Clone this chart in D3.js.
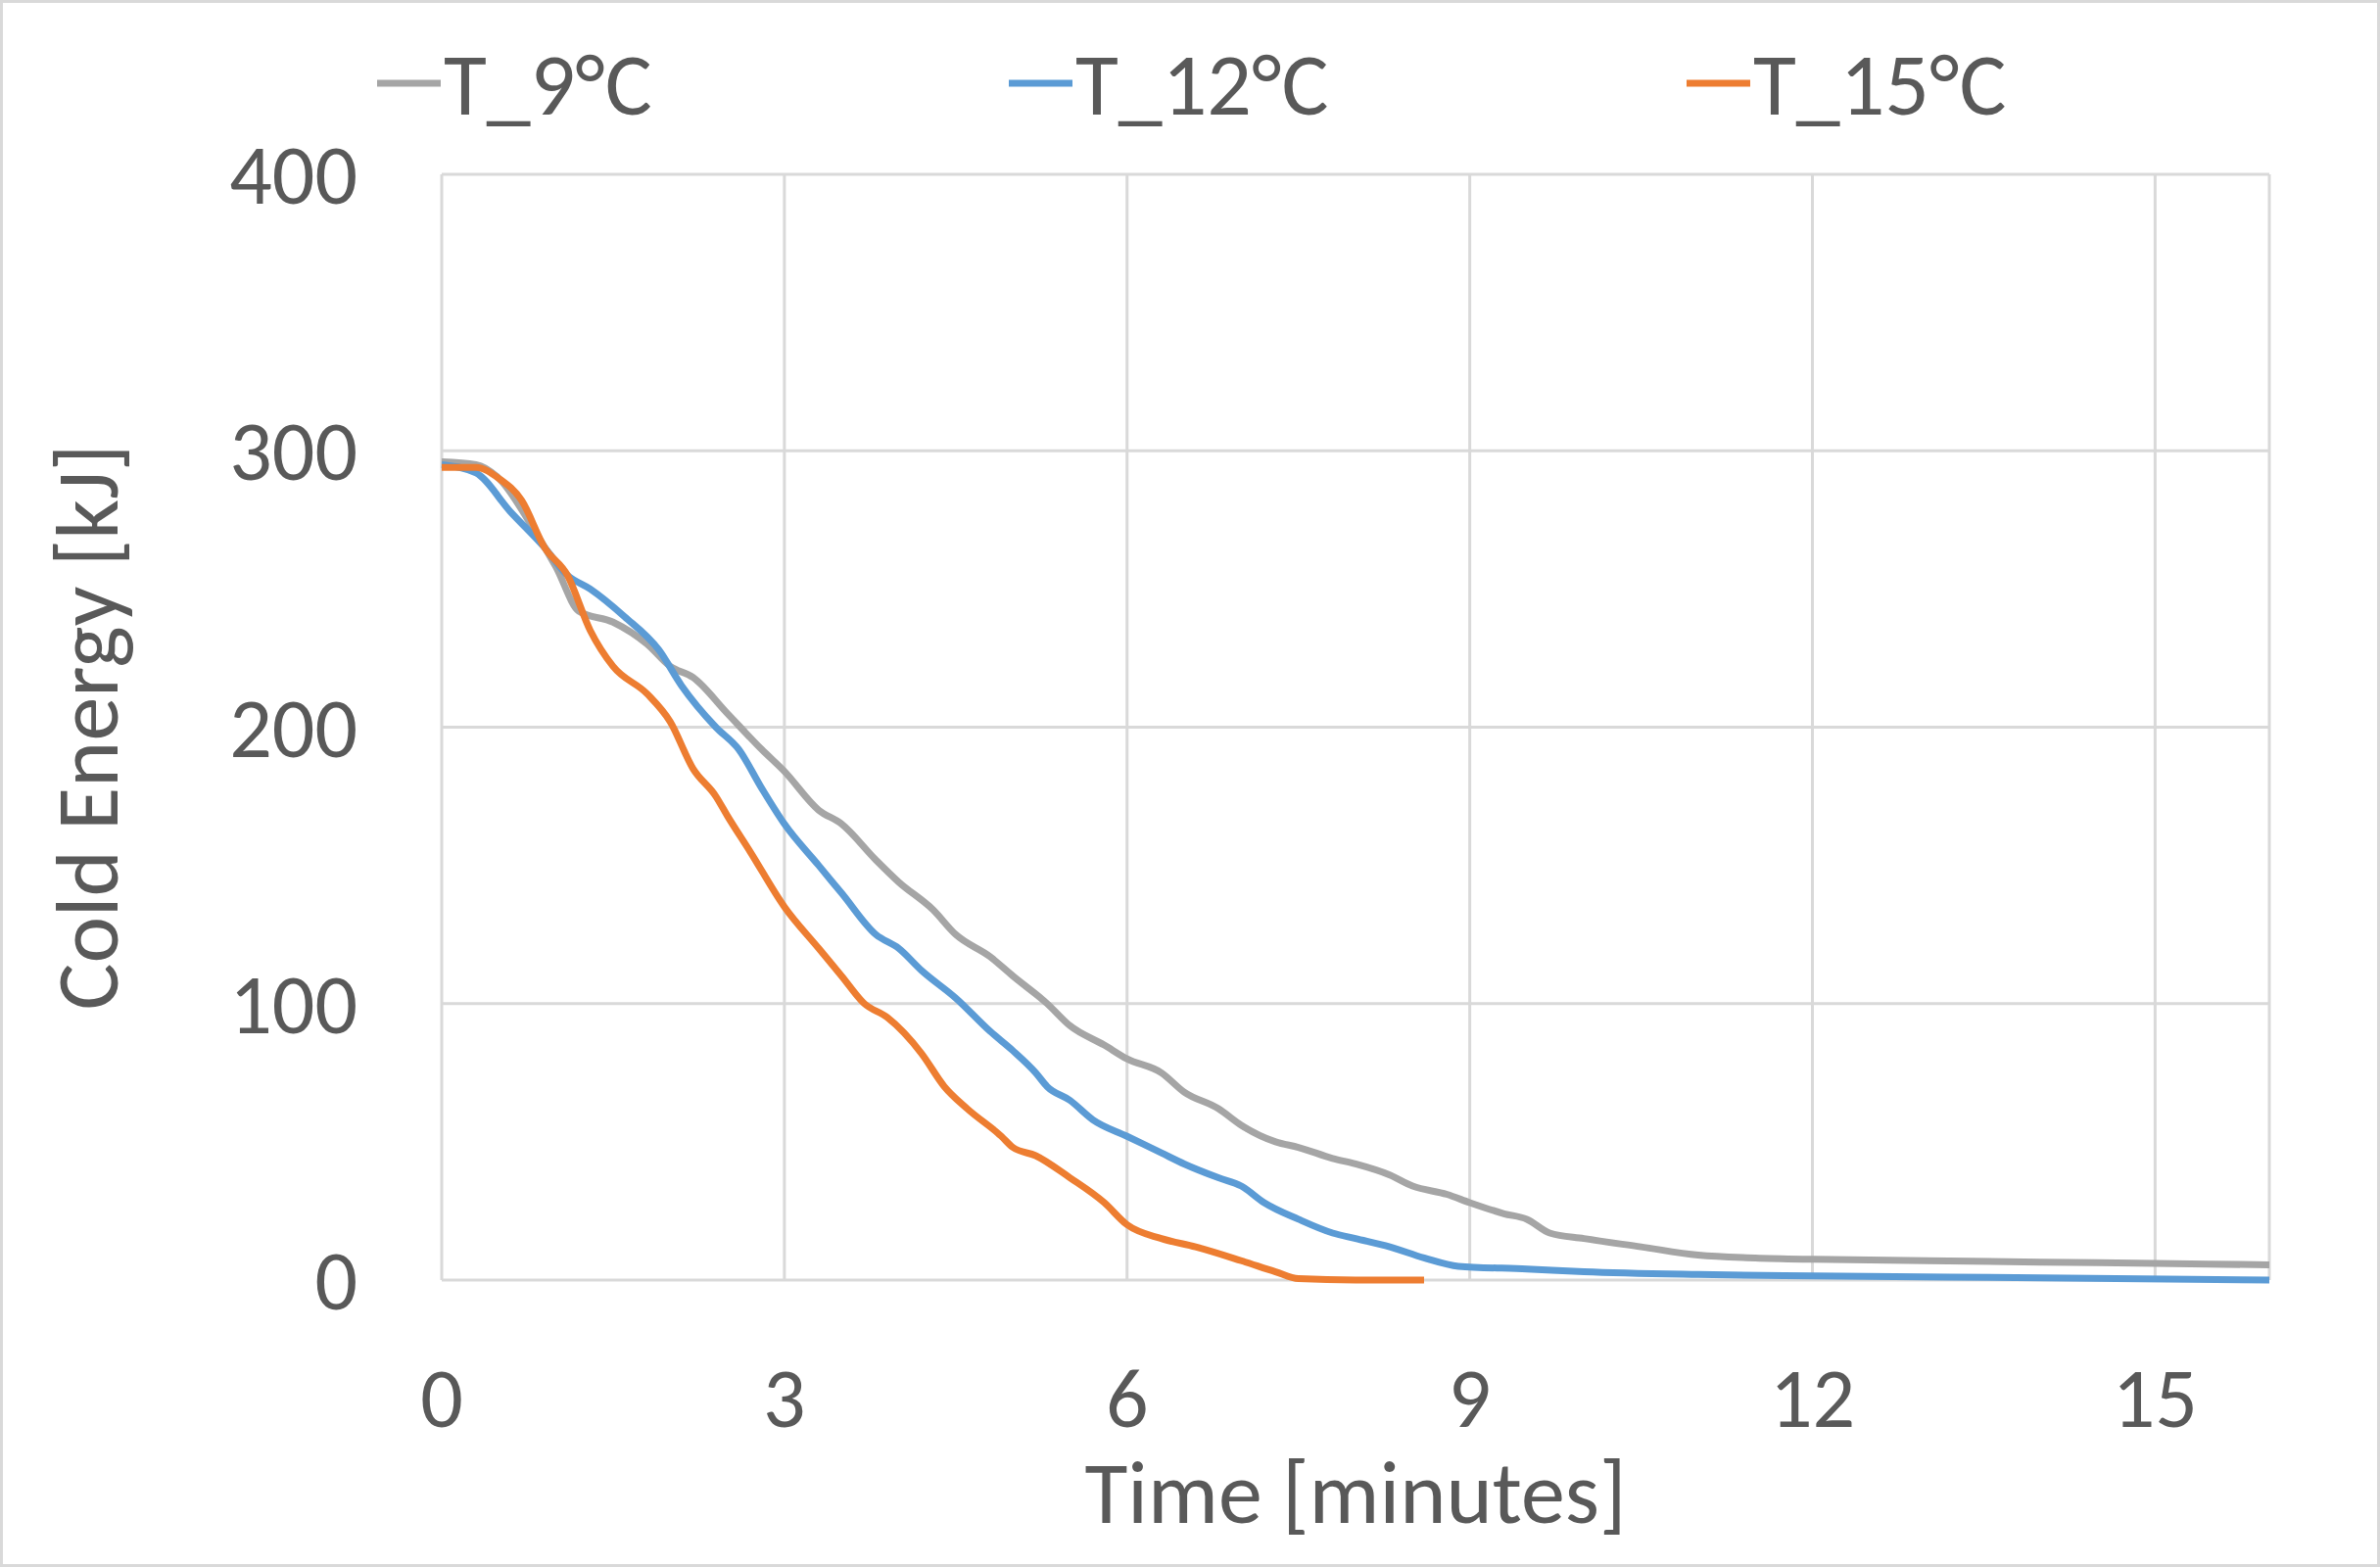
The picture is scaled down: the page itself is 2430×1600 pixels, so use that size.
<!DOCTYPE html><html><head><meta charset="utf-8"><script src="https://cdn.jsdelivr.net/npm/d3@7"></script>
<style>body{margin:0;background:#fff}</style></head><body><svg id="c" width="2430" height="1600"></svg><script>
const seriesNames=["T_9°C","T_12°C","T_15°C"];
const colors=["#A5A5A5","#5B9BD5","#ED7D31"];
const xTicks=[0,3,6,9,12,15];
const yTicks=[0,100,200,300,400];
const t9=[[0,296],[0.3,295],[0.5,290],[0.8,272],[1.0,258],[1.2,242],[1.5,238],[1.8,230],[2.0,222],[2.2,218],[2.5,205],[2.8,192],[3.0,184],[3.3,170],[3.5,165],[3.8,152],[4.0,144],[4.3,134],[4.5,125],[4.8,117],[5.0,110],[5.3,100],[5.5,92],[5.8,85],[6.0,80],[6.3,75],[6.5,68],[6.8,62],[7.0,56],[7.3,50],[7.5,48],[7.8,44],[8.0,42],[8.3,38],[8.5,34],[8.8,31],[9.0,28],[9.3,24],[9.5,22],[9.7,17],[10,15],[10.5,12],[11,9],[11.5,8],[12,7.5],[13,7],[14,6.5],[15,6],[16,5.5]];
const t12=[[0,295],[0.3,292],[0.6,278],[0.9,265],[1.1,255],[1.3,250],[1.6,240],[1.9,228],[2.1,215],[2.4,200],[2.6,192],[2.8,178],[3.0,165],[3.3,150],[3.5,140],[3.8,125],[4.0,120],[4.2,112],[4.5,102],[4.8,90],[5.0,83],[5.2,75],[5.3,70],[5.5,65],[5.7,58],[6.0,52],[6.3,46],[6.5,42],[6.8,37],[7.0,34],[7.2,28],[7.5,22],[7.8,17],[8.0,15],[8.3,12],[8.6,8],[8.9,5],[9.5,4],[10,3],[11,2],[12,1.5],[14,0.8],[16,0]];
const t15=[[0,294],[0.3,294],[0.5,290],[0.7,282],[0.9,265],[1.1,255],[1.3,235],[1.5,222],[1.8,212],[2.0,202],[2.2,185],[2.4,175],[2.5,168],[2.7,155],[3.0,135],[3.3,120],[3.5,110],[3.7,100],[3.9,95],[4.2,82],[4.4,70],[4.6,62],[4.9,52],[5.0,48],[5.2,45],[5.5,37],[5.8,28],[6.0,20],[6.3,15],[6.6,12],[7.0,7],[7.3,3],[7.5,0.5],[8.0,0],[8.6,0]];
const data=[t9,t12,t15];
const svg=d3.select("#c");
const font="Calibri, Carlito, 'Open Sans', sans-serif";
svg.append("rect").attr("x",1.5).attr("y",1.5).attr("width",2427).attr("height",1597).attr("fill","#fff").attr("stroke","#d9d9d9").attr("stroke-width",3);
const L=451,R=2317,T=178,B=1307;
const x=d3.scaleLinear().domain([0,16]).range([L,R]);
const y=d3.scaleLinear().domain([0,400]).range([B,T]);
const g=svg.append("g");
g.selectAll(".gy").data(yTicks).join("line").attr("x1",L).attr("x2",R).attr("y1",d=>y(d)).attr("y2",d=>y(d)).attr("stroke","#d9d9d9").attr("stroke-width",3);
g.selectAll(".gx").data(xTicks).join("line").attr("x1",d=>x(d)).attr("x2",d=>x(d)).attr("y1",T).attr("y2",B).attr("stroke","#d9d9d9").attr("stroke-width",3);
g.append("line").attr("x1",R).attr("x2",R).attr("y1",T).attr("y2",B).attr("stroke","#d9d9d9").attr("stroke-width",3);
g.selectAll(".ty").data(yTicks).join("text").attr("x",L-86).attr("y",d=>y(d)).attr("dy","0.35em").attr("text-anchor","end").attr("font-family",font).attr("font-size",86).attr("fill","#595959").text(d=>d);
g.selectAll(".tx").data(xTicks).join("text").attr("x",d=>x(d)).attr("y",B+150).attr("text-anchor","middle").attr("font-family",font).attr("font-size",86).attr("fill","#595959").text(d=>d);
svg.append("text").attr("x",(L+R)/2).attr("y",1555).attr("text-anchor","middle").attr("font-family",font).attr("font-size",90).attr("fill","#595959").text("Time [minutes]");
svg.append("text").attr("transform",`translate(120,${(T+B)/2}) rotate(-90)`).attr("text-anchor","middle").attr("font-family",font).attr("font-size",90).attr("fill","#595959").text("Cold Energy [kJ]");
const line=d3.line().x(d=>x(d[0])).y(d=>y(d[1])).curve(d3.curveMonotoneX);
data.forEach((s,i)=>svg.append("path").attr("d",line(s)).attr("fill","none").attr("stroke",colors[i]).attr("stroke-width",7).attr("stroke-linejoin","round"));
const lx=[385,1030,1722];
seriesNames.forEach((n,i)=>{
 svg.append("line").attr("x1",lx[i]).attr("x2",lx[i]+65).attr("y1",85).attr("y2",85).attr("stroke",colors[i]).attr("stroke-width",7);
 svg.append("text").attr("x",lx[i]+68).attr("y",85).attr("dy","0.35em").attr("font-family",font).attr("font-size",90).attr("fill","#595959").text(n);
});
</script></body></html>
